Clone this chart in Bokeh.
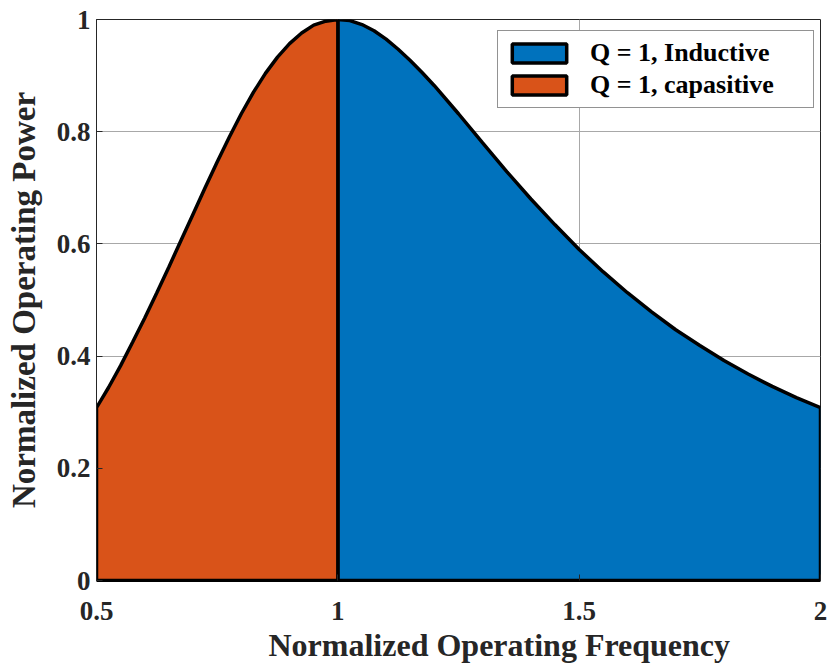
from bokeh.plotting import figure
from bokeh.models import FixedTicker, Legend, LegendItem, Title
from bokeh.embed import file_html
from bokeh.resources import INLINE

# Normalized frequency samples and normalized power
freq = [0.500, 0.525, 0.550, 0.575, 0.600, 0.625, 0.650, 0.675, 0.700, 0.725,
        0.750, 0.775, 0.800, 0.825, 0.850, 0.875, 0.900, 0.925, 0.950, 0.975,
        1.000, 1.025, 1.050, 1.075, 1.100, 1.125, 1.150, 1.175, 1.200, 1.250,
        1.300, 1.350, 1.400, 1.450, 1.500, 1.550, 1.600, 1.650, 1.700, 1.750,
        1.800, 1.850, 1.900, 1.950, 2.000]
power = [0.308, 0.344, 0.383, 0.425, 0.468, 0.513, 0.559, 0.606, 0.653, 0.700,
         0.746, 0.790, 0.832, 0.870, 0.904, 0.933, 0.957, 0.976, 0.990, 0.997,
         1.000, 0.998, 0.991, 0.980, 0.965, 0.947, 0.927, 0.905, 0.882, 0.832,
         0.780, 0.729, 0.680, 0.634, 0.590, 0.550, 0.513, 0.479, 0.447, 0.419,
         0.392, 0.368, 0.346, 0.326, 0.308]
split_freq = 1.0

x_ticks = [0.5, 1, 1.5, 2]
x_tick_labels = ["0.5", "1", "1.5", "2"]
y_ticks = [0, 0.2, 0.4, 0.6, 0.8, 1]
y_tick_labels = ["0", "0.2", "0.4", "0.6", "0.8", "1"]

x_label = "Normalized Operating Frequency"
y_label = "Normalized Operating Power"
series_labels = ["Q = 1, Inductive", "Q = 1, capasitive"]
colors = ["#0072BD", "#D95319"]

FONT = "Liberation Serif"
TXT = "#262626"

p = figure(width=830, height=666, x_range=(0.5, 2), y_range=(0, 1),
           output_backend="svg", toolbar_location=None,
           min_border_left=96, min_border_right=10, min_border_top=19,
           min_border_bottom=86)
p.background_fill_color = "white"
p.border_fill_color = "white"
p.outline_line_color = TXT
p.outline_line_width = 1

# polygons
cap_x = [f for f in freq if f <= split_freq]
cap_y = [pw for f, pw in zip(freq, power) if f <= split_freq]
ind_x = [f for f in freq if f >= split_freq]
ind_y = [pw for f, pw in zip(freq, power) if f >= split_freq]

ind = p.patch(ind_x + [ind_x[-1], ind_x[0]], ind_y + [0, 0],
              fill_color=colors[0], line_color="black", line_width=3.5)
cap = p.patch(cap_x + [cap_x[-1], cap_x[0]], cap_y + [0, 0],
              fill_color=colors[1], line_color="black", line_width=3.5)

# axes
for ax in (p.xaxis[0], p.yaxis[0]):
    ax.major_label_text_font = FONT
    ax.major_label_text_font_style = "bold"
    ax.major_label_text_font_size = "27px"
    ax.major_label_text_color = TXT
    ax.axis_label_text_font = FONT
    ax.axis_label_text_font_style = "bold"
    ax.axis_label_text_font_size = "33px"
    ax.axis_label_text_color = TXT
    ax.major_tick_in = 6
    ax.major_tick_out = 0
    ax.minor_tick_line_color = None
    ax.major_tick_line_color = TXT
    ax.axis_line_color = TXT

p.xaxis.ticker = FixedTicker(ticks=x_ticks)
p.xaxis.major_label_overrides = {t: l for t, l in zip(x_ticks, x_tick_labels)}
p.yaxis.ticker = FixedTicker(ticks=y_ticks)
p.yaxis.major_label_overrides = {t: l for t, l in zip(y_ticks, y_tick_labels)}
p.yaxis.axis_label = y_label
p.xaxis.major_label_standoff = 21
p.yaxis.major_label_standoff = 6
p.yaxis.axis_label_standoff = 12
p.xaxis.axis_line_color = "black"
p.xaxis.axis_line_width = 3

xt = Title(text=x_label, align="left", offset=172, standoff=4,
           text_font=FONT, text_font_style="bold", text_font_size="32px",
           text_color=TXT)
p.add_layout(xt, "below")

p.xgrid.ticker = FixedTicker(ticks=x_ticks)
p.ygrid.ticker = FixedTicker(ticks=y_ticks)
p.grid.grid_line_color = "#a8a8a8"
p.grid.grid_line_width = 1

legend = Legend(items=[LegendItem(label=series_labels[0], renderers=[ind]),
                       LegendItem(label=series_labels[1], renderers=[cap])],
                location=(401, 472))
legend.label_text_font = FONT
legend.label_text_font_style = "bold"
legend.label_text_font_size = "26px"
legend.label_text_color = "#000000"
legend.glyph_width = 68
legend.glyph_height = 24
legend.label_height = 28
legend.label_width = 216
legend.label_standoff = 17
legend.padding = 7
legend.spacing = 2
legend.margin = 0
legend.border_line_color = TXT
legend.border_line_width = 1
legend.background_fill_alpha = 1
p.add_layout(legend)

open("out.html", "w").write(file_html(p, INLINE))
